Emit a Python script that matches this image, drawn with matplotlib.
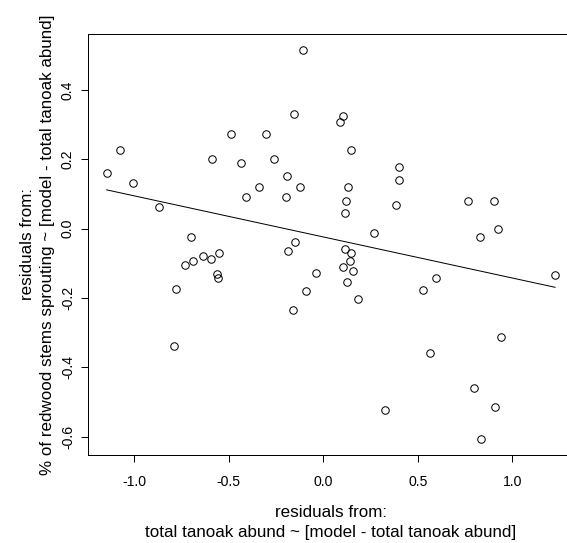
import numpy as np
import matplotlib
matplotlib.use("Agg")
import matplotlib.pyplot as plt

plt.rcParams['font.family'] = ['Liberation Sans', 'DejaVu Sans']

# residuals of tanoak abundance (x) vs residuals of % redwood stems sprouting (y)
tanoak_resid = [
    -0.109, -0.153, -0.488, -0.305, -1.076, -0.590, -0.259, -0.435, -1.146, -0.194,
    -1.007, -0.340, -0.125, -0.411, -0.199, -0.871, -0.702, -0.148,
    0.103, 0.090, 0.148, 0.401, 0.401, 0.132, 0.120, 0.383, 0.113, 0.767,
    0.902, 0.924, 0.831, 0.267, 0.115,
    0.145, 0.143, 0.103, 0.156, -0.039, 0.125, -0.092, 0.184, 0.598, 0.528,
    0.942, 0.563, 0.796, 0.907, 0.325, 0.836, 1.226,
    -0.185, -0.638, -0.689, -0.733, -0.593, -0.550, -0.564, -0.557, -0.779,
    -0.160, -0.790,
]
sprout_resid = [
    0.516, 0.332, 0.272, 0.272, 0.228, 0.202, 0.202, 0.189, 0.161, 0.151,
    0.132, 0.119, 0.119, 0.091, 0.091, 0.062, -0.024, -0.039,
    0.326, 0.307, 0.228, 0.177, 0.141, 0.119, 0.081, 0.068, 0.046, 0.081,
    0.081, -0.002, -0.024, -0.012, -0.059,
    -0.071, -0.094, -0.110, -0.122, -0.129, -0.154, -0.180, -0.202, -0.141, -0.177,
    -0.312, -0.358, -0.459, -0.513, -0.523, -0.606, -0.134,
    -0.065, -0.078, -0.094, -0.104, -0.087, -0.071, -0.132, -0.141, -0.173,
    -0.234, -0.338,
]

# fitted line end points
fit_x = [-1.146, 1.226]
fit_y = [0.112, -0.169]

xticks = [-1.0, -0.5, 0.0, 0.5, 1.0]
yticks = [-0.6, -0.4, -0.2, 0.0, 0.2, 0.4]

W, H = 567, 543
fig = plt.figure(figsize=(W / 72, H / 72), dpi=72)
ax = fig.add_axes([88 / W, (H - 455) / H, (573 - 88) / W, (455 - 34) / H])

ax.plot(tanoak_resid, sprout_resid, 'o', mfc='none', mec='black', ms=7.5, mew=1.0)
ax.plot(fit_x, fit_y, color='black', lw=1.0)

ax.set_xlim(-1.245, 1.321)
ax.set_ylim(-0.6527, 0.5616)
ax.set_xticks(xticks)
ax.set_yticks(yticks)
ax.set_xticklabels([f"{v:.1f}" for v in xticks])
ax.set_yticklabels([f"{v:.1f}" for v in yticks])
for s in ax.spines.values():
    s.set_linewidth(1.0)

ax.tick_params(length=7, width=1, labelsize=14)
ax.tick_params(axis='x', pad=13)
ax.tick_params(axis='y', pad=6)
plt.setp(ax.get_yticklabels(), rotation=90, va='center')

ax.set_xlabel("residuals from:\ntotal tanoak abund ~ [model - total tanoak abund]",
              fontsize=17, linespacing=1.45, labelpad=16)
ax.set_ylabel("residuals from:\n% of redwood stems sprouting ~ [model - total tanoak abund]",
              fontsize=17, linespacing=1.45, labelpad=6)

fig.savefig("out.png", dpi=72)
